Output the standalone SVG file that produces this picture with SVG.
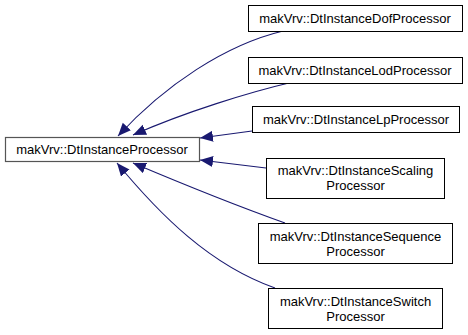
<svg xmlns="http://www.w3.org/2000/svg" width="468" height="335" viewBox="0 0 468 335">
<style>
.box{fill:#ffffff;stroke:#000000;stroke-width:1}
.main{fill:#ffffff;stroke:#555555;stroke-width:1.2}
.lbl{font-family:"Liberation Sans",Arial,sans-serif;font-size:13px;fill:#000000;text-anchor:middle}
.edge{fill:none;stroke:#191970;stroke-width:1.1}
</style>
<defs>
<marker id="ah" markerUnits="userSpaceOnUse" markerWidth="14" markerHeight="12" refX="13" refY="5.5" orient="auto">
<path d="M0,0 L13,5.5 L0,11 z" fill="#191970"/>
</marker>
</defs>
<rect width="468" height="335" fill="#ffffff"/>
<g id="edges">
<path class="edge" marker-end="url(#ah)" d="M283,31 C225,45 165,85 118,136"/>
<path class="edge" marker-end="url(#ah)" d="M293,82 C250,92 185,112 133,135"/>
<path class="edge" marker-end="url(#ah)" d="M252,131 L200,138"/>
<path class="edge" marker-end="url(#ah)" d="M266,168 L200,160"/>
<path class="edge" marker-end="url(#ah)" d="M285,223 C240,207 185,185 133,163"/>
<path class="edge" marker-end="url(#ah)" d="M275,288 C210,265 160,215 117,163"/>
</g>
<g id="node-main">
<rect class="main" x="5.5" y="137.5" width="194" height="24"/>
<text class="lbl" x="102" y="153.5">makVrv::DtInstanceProcessor</text>
</g>
<g id="node-dof">
<rect class="box" x="248.5" y="5.5" width="214" height="26"/>
<text class="lbl" x="355" y="23">makVrv::DtInstanceDofProcessor</text>
</g>
<g id="node-lod">
<rect class="box" x="248.5" y="57.5" width="214" height="26"/>
<text class="lbl" x="355" y="75">makVrv::DtInstanceLodProcessor</text>
</g>
<g id="node-lp">
<rect class="box" x="252.5" y="106.5" width="207" height="26"/>
<text class="lbl" x="356" y="124">makVrv::DtInstanceLpProcessor</text>
</g>
<g id="node-scaling">
<rect class="box" x="266.5" y="158.5" width="178" height="40"/>
<text class="lbl" x="355.5" y="174.5">makVrv::DtInstanceScaling</text>
<text class="lbl" x="355.5" y="189.5">Processor</text>
</g>
<g id="node-sequence">
<rect class="box" x="258.5" y="223.5" width="194" height="40"/>
<text class="lbl" x="355.5" y="241">makVrv::DtInstanceSequence</text>
<text class="lbl" x="355.5" y="256">Processor</text>
</g>
<g id="node-switch">
<rect class="box" x="268.5" y="288.5" width="174" height="40"/>
<text class="lbl" x="355.5" y="306">makVrv::DtInstanceSwitch</text>
<text class="lbl" x="355.5" y="321">Processor</text>
</g>
</svg>
